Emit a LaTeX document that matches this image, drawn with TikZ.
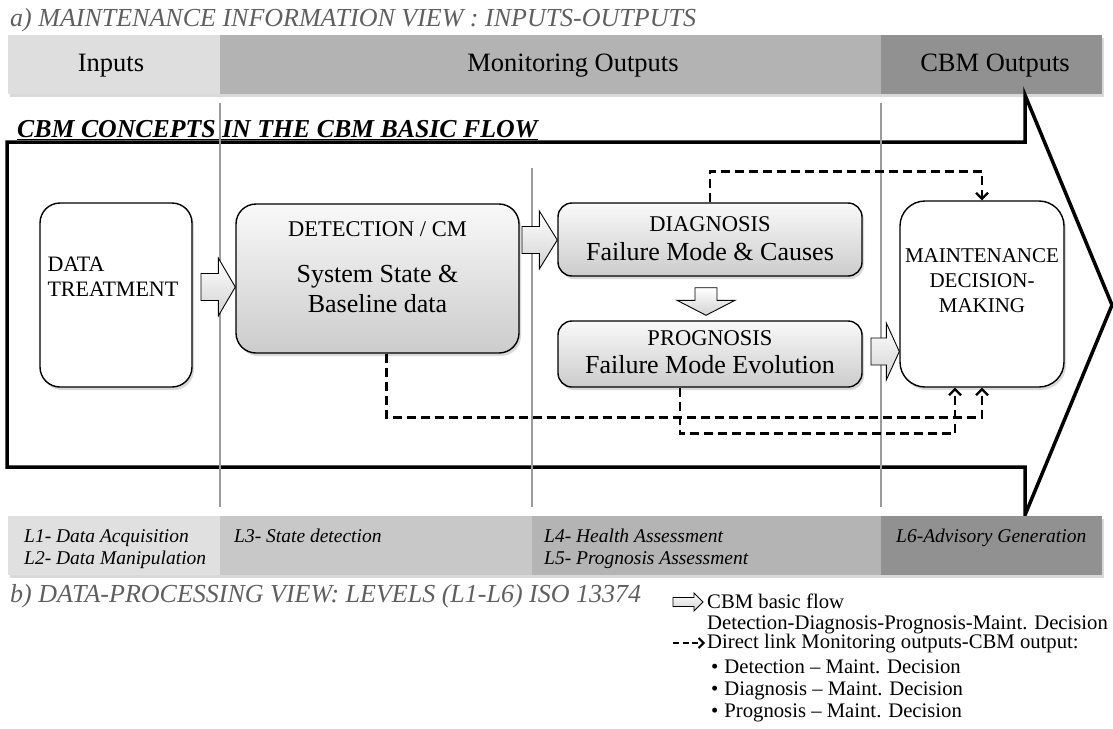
\documentclass[tikz,border=0pt]{standalone}
\usepackage{fontspec}
\setmainfont{Liberation Serif}
\usetikzlibrary{calc,shadows,arrows.meta}
\definecolor{barlight}{RGB}{222,222,222}
\definecolor{barmid}{RGB}{179,179,179}
\definecolor{bardark}{RGB}{145,145,145}
\definecolor{lvlA}{RGB}{224,224,224}
\definecolor{lvlB}{RGB}{200,200,200}
\definecolor{lvlC}{RGB}{180,180,180}
\definecolor{lvlD}{RGB}{145,145,145}
\definecolor{guide}{RGB}{155,155,155}
\definecolor{captiongray}{RGB}{95,95,95}
% block arrow pointing right: tail, tip, half shaft, half head, head length
\newcommand\flowright[5]{%
  \draw[flowarr] let \p1=#1, \p2=#2 in
    (\x1,{\y2+#3}) -- ({\x2-#5},{\y2+#3}) -- ({\x2-#5},{\y2+#4}) -- (\x2,\y2)
    -- ({\x2-#5},{\y2-#4}) -- ({\x2-#5},{\y2-#3}) -- (\x1,{\y2-#3}) -- cycle;}
% block arrow pointing down: tail, tip, half shaft, half head, head length
\newcommand\flowdown[5]{%
  \draw[flowarr] let \p1=#1, \p2=#2 in
    ({\x2-#3},\y1) -- ({\x2-#3},{\y2+#5}) -- ({\x2-#4},{\y2+#5}) -- (\x2,\y2)
    -- ({\x2+#4},{\y2+#5}) -- ({\x2+#3},{\y2+#5}) -- ({\x2+#3},\y1) -- cycle;}
\begin{document}
\begin{tikzpicture}[x=1pt,y=-1pt,
  softshadow/.style={drop shadow={shadow xshift=2pt,shadow yshift=-3pt,opacity=0.3}},
  box/.style={draw=black,line width=1.4pt,rounded corners=#1,softshadow,inner sep=0pt},
  box/.default=20pt,
  plainbox/.style={box=#1,fill=white},
  shadedbox/.style={box=#1,top color=gray!5,bottom color=gray!40},
  flowarr/.style={draw=black,line width=0.9pt,line join=miter,top color=white,bottom color=gray!35},
  link/.style={line width=2.6pt,dash pattern=on 9pt off 5pt,
    -{Straight Barb[length=6pt,width=12pt,line width=2.2pt]}},
  guideline/.style={guide,line width=2.6pt},
  caption/.style={anchor=base west,text=captiongray,inner sep=0pt,
    font=\fontsize{26}{31}\selectfont\itshape},
  barlabel/.style={anchor=base,inner sep=0pt,font=\fontsize{26.5}{31}\selectfont},
  lvllabel/.style={anchor=base west,inner sep=0pt,font=\fontsize{19.5}{23}\selectfont\itshape},
  capfont/.style={anchor=base,inner sep=0pt,font=\fontsize{22.5}{27}\selectfont},
  bigfont/.style={anchor=base,inner sep=0pt,font=\fontsize{26}{31}\selectfont},
  legendfont/.style={anchor=base west,inner sep=0pt,font=\fontsize{20.7}{25}\selectfont},
]
\useasboundingbox (0,0) rectangle (1113,728);

% information view bar
\node[caption] (titleA) at (10,27) {a) MAINTENANCE INFORMATION VIEW : INPUTS-OUTPUTS};
\path[fill=white,softshadow] (8,35) rectangle (1102,94);
\fill[barlight] (8,35) rectangle (220,94);
\fill[barmid] (220,35) rectangle (881,94);
\fill[bardark] (881,35) rectangle (1102,94);
\node[barlabel] (inputs) at (111,71) {Inputs};
\node[barlabel] (monout) at (573,71) {Monitoring Outputs};
\node[barlabel] (cbmout) at (995,71) {CBM Outputs};

% the large flow arrow
\node[anchor=base west,inner sep=0pt,font=\fontsize{25.8}{30}\selectfont\bfseries\itshape]
  (concepts) at (17,137) {\underline{CBM CONCEPTS IN THE CBM BASIC FLOW}};
\draw[line width=3.5pt,line join=miter] (7,142) -- (1025,142) -- (1025,95) -- (1112,305)
  -- (1025,515) -- (1025,467) -- (7,467) -- cycle;

% level separators
\draw[guideline] (220,103) -- (220,507);
\draw[guideline] (532,168) -- (532,507);
\draw[guideline] (881,103) -- (881,507);

% process boxes
\node[plainbox=20pt,minimum width=152,minimum height=184] (dt) at (116,295) {};
\node[shadedbox=20pt,minimum width=283,minimum height=149] (det) at (377.5,278.5) {};
\node[shadedbox=14pt,minimum width=304,minimum height=73] (diag) at (710,239.5) {};
\node[shadedbox=14pt,minimum width=304,minimum height=66] (prog) at (710,354) {};
\node[plainbox=25pt,minimum width=164,minimum height=186] (mdm) at (982,294) {};

\node[anchor=base west,inner sep=0pt,font=\fontsize{22}{25}\selectfont]
  (dtlabel) at ($(dt.north west)+(8,69)$)
  {\begin{tabular}[t]{@{}l@{}}DATA\\TREATMENT\end{tabular}};
\node[capfont] (detA) at ($(det.north)+(0,33)$) {DETECTION / CM};
\node[bigfont] (detB) at ($(det.north)+(0,79)$) {System State \&};
\node[bigfont] (detC) at ($(det.north)+(0,109)$) {Baseline data};
\node[capfont] (diagA) at ($(diag.north)+(0,29)$) {DIAGNOSIS};
\node[bigfont] (diagB) at ($(diag.north)+(0,58)$) {Failure Mode \& Causes};
\node[capfont] (progA) at ($(prog.north)+(0,25)$) {PROGNOSIS};
\node[bigfont] (progB) at ($(prog.north)+(0,53)$) {Failure Mode Evolution};
\node[anchor=base,inner sep=0pt,font=\fontsize{21}{25}\selectfont]
  (mdmlabel) at ($(mdm.north)+(0,62)$)
  {\begin{tabular}[t]{@{}c@{}}MAINTENANCE\\DECISION-\\MAKING\end{tabular}};

% basic flow arrows
\coordinate (f1tail) at (201,287);
\coordinate (f2tail) at (522,240);
\coordinate (f3tail) at (871,351.5);
\flowright{(f1tail)}{(det.west |- f1tail)}{13.5pt}{29pt}{17pt}
\flowright{(f2tail)}{(diag.west |- f2tail)}{13.5pt}{29pt}{18pt}
\flowdown{($(diag.south)+(-4,11)$)}{($(prog.north)+(-4,-5)$)}{11pt}{29pt}{15pt}
\flowright{(f3tail)}{(mdm.west |- f3tail)}{13.5pt}{28.5pt}{13pt}

% direct links to the decision box
\draw[link] ($(det.south)+(9,0)$) -- ++(0,64) -| (mdm.south);
\draw[link] ($(prog.south)+(-30,0)$) -- ++(0,46) -| ($(mdm.south)+(-27,0)$);
\draw[link] (diag.north) -- ++(0,-31) -| (mdm.north);

% processing levels bar
\path[fill=white,softshadow] (8,516) rectangle (1102,575);
\fill[lvlA] (8,516) rectangle (220,575);
\fill[lvlB] (220,516) rectangle (532,575);
\fill[lvlC] (532,516) rectangle (881,575);
\fill[lvlD] (881,516) rectangle (1102,575);
\node[lvllabel] (l1) at (24,542) {L1- Data Acquisition};
\node[lvllabel] (l2) at (24,564) {L2- Data Manipulation};
\node[lvllabel] (l3) at (234,542) {L3- State detection};
\node[lvllabel] (l4) at (544,542) {L4- Health Assessment};
\node[lvllabel] (l5) at (544,564) {L5- Prognosis Assessment};
\node[lvllabel] (l6) at (896,542) {L6-Advisory Generation};
\node[caption] (titleB) at (10,602) {b) DATA-PROCESSING VIEW: LEVELS (L1-L6) ISO 13374};

% legend
\node[legendfont] (lgA) at (707,608) {CBM basic flow};
\node[legendfont] (lgB) at (707,629) {Detection-Diagnosis-Prognosis-Maint. Decision};
\node[legendfont] (lgC) at (707,648) {Direct link Monitoring outputs-CBM output:};
\coordinate (lgflowtail) at (673,602);
\flowright{(lgflowtail)}{($(lgA.west |- lgflowtail)+(-4,0)$)}{4.5pt}{9pt}{9pt}
\coordinate (lgstart) at (673,643);
\draw[line width=2.4pt,dash pattern=on 6pt off 3.5pt,
  -{Straight Barb[length=5pt,width=10pt,line width=2pt]}] (lgstart) -- ($(lgC.west |- lgstart)+(-2,0)$);
\node[legendfont] (lgD) at (711,673) {•\hspace{6pt}Detection -- Maint. Decision};
\node[legendfont] (lgE) at (711,695) {•\hspace{6pt}Diagnosis -- Maint. Decision};
\node[legendfont] (lgF) at (711,717) {•\hspace{6pt}Prognosis -- Maint. Decision};
\end{tikzpicture}
\end{document}
